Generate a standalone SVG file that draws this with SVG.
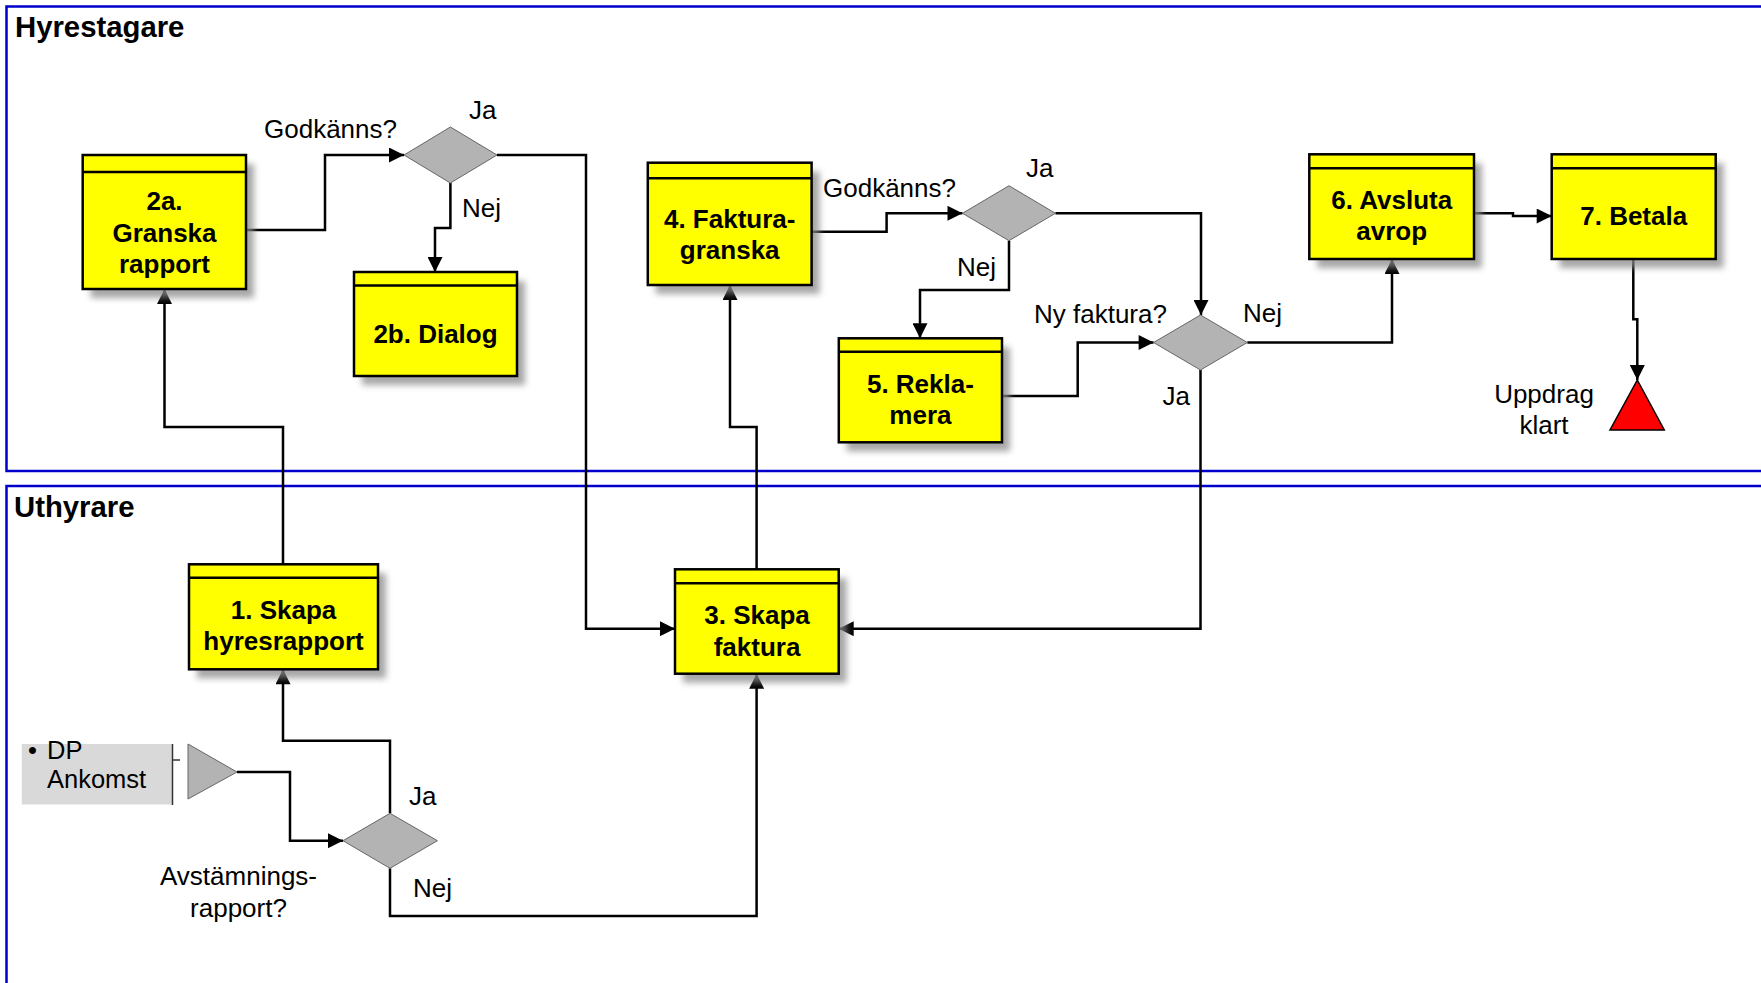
<svg xmlns="http://www.w3.org/2000/svg" width="1761" height="983" viewBox="0 0 1761 983">
<style>
.lane{fill:none;stroke:#0000cc;stroke-width:2.5}
.lanelbl{font-family:"Liberation Sans",Arial,sans-serif;font-weight:bold;font-size:29.3px;fill:#000}
.box{fill:#ffff00;stroke:#000;stroke-width:2.5}
.hdr{stroke:#000;stroke-width:2.5}
.shadow{fill:#8a8a8a;opacity:0.75}
.btxt{font-family:"Liberation Sans",Arial,sans-serif;font-weight:bold;font-size:26px;fill:#000;text-anchor:middle}
.lbl{font-family:"Liberation Sans",Arial,sans-serif;font-size:26px;fill:#000}
.mid{text-anchor:middle}
.dia{fill:#b3b3b3;stroke:#666;stroke-width:1}
.con{fill:none;stroke:#000;stroke-width:2.5;marker-end:url(#arr)}
</style>
<defs>
<filter id="blur" x="-20%" y="-20%" width="140%" height="140%"><feGaussianBlur stdDeviation="3"/></filter>
<marker id="arr" viewBox="0 0 10 10" refX="10" refY="5" markerUnits="userSpaceOnUse" markerWidth="16" markerHeight="15" orient="auto"><path d="M0,0 L10,5 L0,10 z" fill="#000"/></marker>
</defs>
<rect width="1761" height="983" fill="#fff"/>
<g id="lane-hyrestagare">
<rect class="lane" x="6.5" y="6.5" width="1800" height="464.5"/>
<text class="lanelbl" x="15" y="37">Hyrestagare</text>
</g>
<g id="lane-uthyrare">
<rect class="lane" x="6.5" y="486" width="1800" height="600"/>
<text class="lanelbl" x="14" y="517">Uthyrare</text>
</g>

<g id="connectors">
<path class="con" d="M246,230 H325 V155 H404"/>
<path class="con" d="M497,155 H586 V628.7 H675"/>
<path class="con" d="M450.4,183 V228 H435 V272"/>
<path class="con" d="M283,564 V427 H164.5 V289"/>
<path class="con" d="M756.6,569 V427 H730 V285"/>
<path class="con" d="M811.6,231.7 H886.6 V213.3 H962.5"/>
<path class="con" d="M1055.4,213.3 H1201 V315"/>
<path class="con" d="M1009,240.7 V290 H920 V338.3"/>
<path class="con" d="M1002,396 H1077.7 V342.5 H1153.6"/>
<path class="con" d="M1200.5,370 V628.7 H838.7"/>
<path class="con" d="M1247.3,342.5 H1392 V259"/>
<path class="con" d="M1474,213.3 H1513 V216 H1551.7"/>
<path class="con" d="M1633.3,259 V319.3 H1637.3 V380"/>
<path class="con" d="M237,772 H290 V840.7 H343"/>
<path class="con" d="M390,813.3 V740.7 H283 V669.3"/>
<path class="con" d="M390,868.3 V916 H756.6 V673.7"/>
</g>

<g id="node-2a">
<rect class="shadow" filter="url(#blur)" x="90.7" y="164" width="163.3" height="134"/>
<rect class="box" x="82.7" y="155" width="163.3" height="134"/>
<line class="hdr" x1="82.7" y1="172" x2="246" y2="172"/>
<text class="btxt" x="164.5" y="210">2a.</text>
<text class="btxt" x="164.5" y="241.5">Granska</text>
<text class="btxt" x="164.5" y="272.5">rapport</text>
</g>
<g id="node-2b">
<rect class="shadow" filter="url(#blur)" x="362" y="281" width="163" height="104"/>
<rect class="box" x="354" y="272" width="163" height="104"/>
<line class="hdr" x1="354" y1="285.5" x2="517" y2="285.5"/>
<text class="btxt" x="435.5" y="342.5">2b. Dialog</text>
</g>
<g id="node-4">
<rect class="shadow" filter="url(#blur)" x="655.8" y="171.7" width="163.8" height="122.3"/>
<rect class="box" x="647.8" y="162.7" width="163.8" height="122.3"/>
<line class="hdr" x1="647.8" y1="178.3" x2="811.6" y2="178.3"/>
<text class="btxt" x="729.7" y="227.5">4. Faktura-</text>
<text class="btxt" x="729.7" y="258.7">granska</text>
</g>
<g id="node-5">
<rect class="shadow" filter="url(#blur)" x="846.8" y="347.3" width="163.2" height="104"/>
<rect class="box" x="838.8" y="338.3" width="163.2" height="104"/>
<line class="hdr" x1="838.8" y1="351.7" x2="1002" y2="351.7"/>
<text class="btxt" x="920.4" y="392.5">5. Rekla-</text>
<text class="btxt" x="920.4" y="423.7">mera</text>
</g>
<g id="node-6">
<rect class="shadow" filter="url(#blur)" x="1317.3" y="163.3" width="164.7" height="104.7"/>
<rect class="box" x="1309.3" y="154.3" width="164.7" height="104.7"/>
<line class="hdr" x1="1309.3" y1="168.3" x2="1474" y2="168.3"/>
<text class="btxt" x="1391.7" y="209.3">6. Avsluta</text>
<text class="btxt" x="1391.7" y="239.5">avrop</text>
</g>
<g id="node-7">
<rect class="shadow" filter="url(#blur)" x="1559.7" y="163.3" width="164" height="104.7"/>
<rect class="box" x="1551.7" y="154.3" width="164" height="104.7"/>
<line class="hdr" x1="1551.7" y1="168.3" x2="1715.7" y2="168.3"/>
<text class="btxt" x="1633.7" y="224.8">7. Betala</text>
</g>
<g id="node-1">
<rect class="shadow" filter="url(#blur)" x="197" y="573.3" width="189" height="105"/>
<rect class="box" x="189" y="564.3" width="189" height="105"/>
<line class="hdr" x1="189" y1="577.7" x2="378" y2="577.7"/>
<text class="btxt" x="283.5" y="619">1. Skapa</text>
<text class="btxt" x="283.5" y="649.8">hyresrapport</text>
</g>
<g id="node-3">
<rect class="shadow" filter="url(#blur)" x="683" y="578.3" width="163.7" height="104.4"/>
<rect class="box" x="675" y="569.3" width="163.7" height="104.4"/>
<line class="hdr" x1="675" y1="583.3" x2="838.7" y2="583.3"/>
<text class="btxt" x="757" y="623.8">3. Skapa</text>
<text class="btxt" x="757" y="656">faktura</text>
</g>

<g id="decision-1">
<polygon class="dia" points="404,155 450.4,127 497,155 450.4,183"/>
<text class="lbl" x="264" y="138">Godkänns?</text>
<text class="lbl" x="469" y="119">Ja</text>
<text class="lbl" x="462" y="217">Nej</text>
</g>
<g id="decision-2">
<polygon class="dia" points="962.5,213.3 1009,185.7 1055.4,213.3 1009,240.7"/>
<text class="lbl" x="823" y="196.7">Godkänns?</text>
<text class="lbl" x="1026" y="176.7">Ja</text>
<text class="lbl" x="957" y="275.7">Nej</text>
</g>
<g id="decision-4">
<polygon class="dia" points="1153.6,342.5 1200.5,315 1247.3,342.5 1200.5,370"/>
<text class="lbl" x="1034" y="322.7">Ny faktura?</text>
<text class="lbl" x="1243" y="321.7">Nej</text>
<text class="lbl" x="1162.5" y="405">Ja</text>
</g>
<g id="decision-3">
<polygon class="dia" points="343,840.7 390,813.3 437.4,840.7 390,868.3"/>
<text class="lbl" x="409" y="805">Ja</text>
<text class="lbl" x="413" y="896.7">Nej</text>
<text class="lbl mid" x="238.5" y="885">Avstämnings-</text>
<text class="lbl mid" x="238.5" y="916.7">rapport?</text>
</g>
<g id="start">
<rect x="21.8" y="744" width="150.5" height="60.5" fill="#d9d9d9"/>
<line x1="172.5" y1="744" x2="172.5" y2="805" stroke="#333" stroke-width="1.5"/>
<line x1="172.5" y1="760" x2="180" y2="760" stroke="#333" stroke-width="1.5"/>
<text class="lbl" x="28" y="759" style="font-size:25.5px">•</text>
<text class="lbl" x="47" y="759" style="font-size:25.5px">DP</text>
<text class="lbl" x="47" y="788" style="font-size:25.5px">Ankomst</text>
<polygon class="dia" points="188,744 237,772 188,799"/>
</g>
<g id="end">
<polygon points="1637.3,380 1664.3,430 1610,430" fill="#ff0000" stroke="#000" stroke-width="1.5"/>
<text class="lbl mid" x="1544" y="403.3">Uppdrag</text>
<text class="lbl mid" x="1544" y="434.3">klart</text>
</g>
</svg>
